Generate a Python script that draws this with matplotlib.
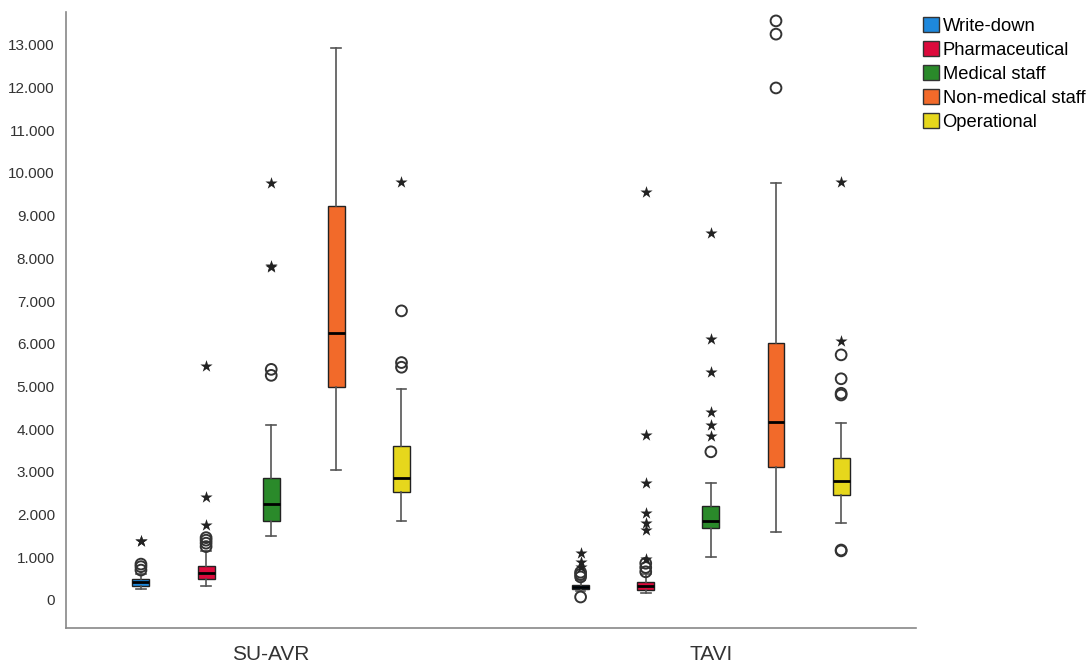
import matplotlib
matplotlib.use("Agg")
import matplotlib.pyplot as plt
from matplotlib.patches import Patch
from matplotlib.ticker import FuncFormatter, MultipleLocator

plt.rcParams["font.family"] = ["Liberation Sans", "DejaVu Sans"]

groups = ["SU-AVR", "TAVI"]
categories = ["Write-down", "Pharmaceutical", "Medical staff", "Non-medical staff", "Operational"]
colours = ["#1E88DC", "#DC0A3C", "#2A8A2A", "#F26A2A", "#E6D71C"]

# whisker low, q1, median, q3, whisker high
su_avr_stats = [
    [260, 330, 410, 480, 620],
    [330, 490, 630, 800, 1150],
    [1500, 1850, 2250, 2850, 4100],
    [3040, 4990, 6250, 9230, 12930],
    [1850, 2530, 2860, 3610, 4940],
]
tavi_stats = [
    [200, 260, 300, 350, 470],
    [170, 230, 330, 420, 600],
    [1000, 1690, 1850, 2200, 2740],
    [1600, 3120, 4170, 6020, 9770],
    [1800, 2460, 2790, 3330, 4150],
]

# outliers (circles) and extremes (stars)
su_avr_outliers = [[700, 780, 840], [1250, 1330, 1400, 1460], [5260, 5400], [], [5450, 5560, 6770]]
tavi_outliers = [[70, 540, 600, 650], [660, 760, 860], [3470], [11990, 13250, 13560],
                 [1150, 1170, 4800, 4840, 5180, 5740]]
su_avr_extremes = [[1370, 1390], [1760, 2420, 5470], [7800, 7830, 9770], [], [9790]]
tavi_extremes = [[770, 890, 1100], [960, 1640, 1800, 2040, 2740, 3860, 9550],
                 [3840, 4100, 4400, 5340, 6100, 8600], [], [6060, 9790]]

group_centers = [0.0, 6.75]
offsets = [-2, -1, 0, 1, 2]

fig = plt.figure(figsize=(10.9, 6.63), dpi=100)
ax = fig.add_axes([0.0606, 0.0528, 0.7798, 0.9292])

all_stats = [su_avr_stats, tavi_stats]
all_outliers = [su_avr_outliers, tavi_outliers]
all_extremes = [su_avr_extremes, tavi_extremes]

for g, center in enumerate(group_centers):
    for k, off in enumerate(offsets):
        lo, q1, med, q3, hi = all_stats[g][k]
        pos = center + off
        ax.bxp([dict(whislo=lo, q1=q1, med=med, q3=q3, whishi=hi, fliers=[])],
               positions=[pos], widths=0.26, patch_artist=True, showfliers=False,
               boxprops=dict(facecolor=colours[k], edgecolor="#222222", linewidth=1.0),
               medianprops=dict(color="black", linewidth=2.0),
               whiskerprops=dict(color="#555555", linewidth=1.2),
               capprops=dict(color="#555555", linewidth=1.2),
               capwidths=0.15, manage_ticks=False, zorder=2)
        outs = all_outliers[g][k]
        if outs:
            ax.scatter([pos] * len(outs), outs, s=60, facecolors="none",
                       edgecolors="#333333", linewidths=1.4, zorder=3)
        ext = all_extremes[g][k]
        if ext:
            ax.scatter([pos] * len(ext), ext, s=85, marker="*", color="#222222",
                       linewidths=0, zorder=3)

ax.set_xlim(-3.15, 9.9)
ax.set_ylim(-656, 13770)
ax.set_xticks(group_centers)
ax.set_xticklabels(groups, fontsize=15, color="#333333")
ax.yaxis.set_major_locator(MultipleLocator(1000))
ax.yaxis.set_major_formatter(FuncFormatter(lambda v, p: f"{int(v):,}".replace(",", ".")))
ax.tick_params(axis="y", length=0, labelsize=11, pad=8, labelcolor="#333333")
ax.tick_params(axis="x", length=0, pad=12)

ax.spines["top"].set_visible(False)
ax.spines["right"].set_visible(False)
ax.spines["left"].set_color("#888888")
ax.spines["bottom"].set_color("#888888")
ax.spines["left"].set_linewidth(1.2)
ax.spines["bottom"].set_linewidth(1.2)

handles = [Patch(facecolor=c, edgecolor="#333333", linewidth=1.0) for c in colours]
fig.legend(handles, categories, loc="upper left", bbox_to_anchor=(0.835, 0.993),
           frameon=False, fontsize=13.2, handlelength=0.87, handleheight=0.87,
           handletextpad=0.2, labelspacing=0.33, borderpad=0.2)

fig.savefig("out.png", dpi=100, facecolor="white")
